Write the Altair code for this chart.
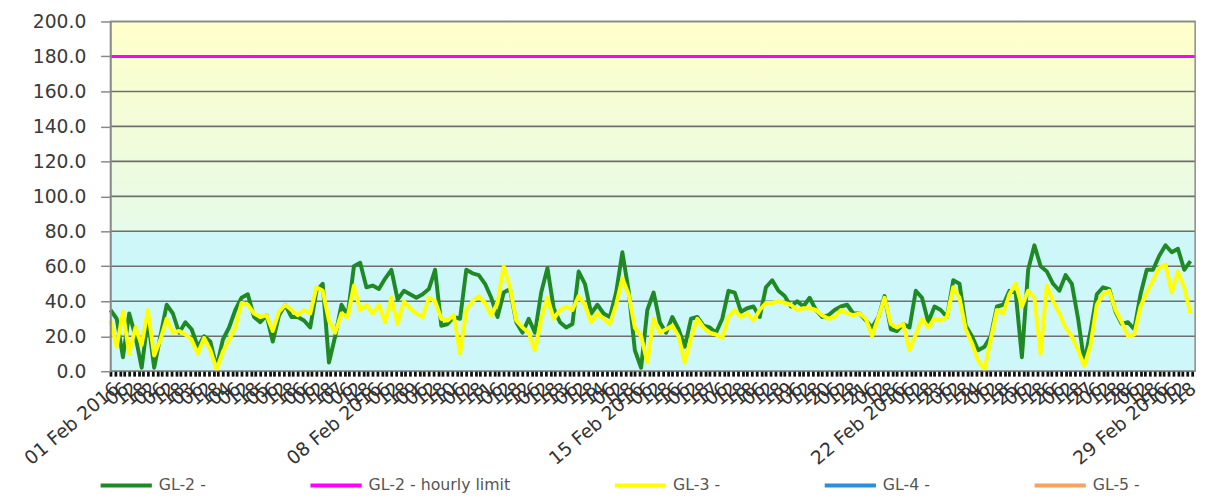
import altair as alt
import pandas as pd

# ---- data (4-hour samples, hour index from 01 Feb 2016 00:00) ----
hours = list(range(0, 696, 4))  # 174 samples

gl2 = [35, 30, 8, 33, 20, 2, 30, 2, 20, 38, 33, 22, 28, 24, 14, 20, 17, 2, 18, 25,
       35, 42, 44, 31, 28, 32, 17, 32, 38, 31, 31, 29, 25, 46, 50, 5, 20, 38, 32, 60,
       62, 48, 49, 47,
       53, 58, 41, 46, 44, 42, 44, 47, 58, 26, 27, 31, 30, 58, 56, 55, 50, 42, 31, 45,
       47, 28, 22, 30, 22, 45, 59, 36, 28, 25, 27, 57, 50, 33, 38, 33, 31, 45, 68, 46,
       12, 2, 35,
       45, 28, 22, 31, 24, 14, 30, 31, 26, 25, 22, 30, 46, 45, 34, 36, 37, 31, 48, 52,
       46, 43, 37, 40, 37, 42, 35, 31, 32, 35, 37, 38, 33, 33, 29, 25, 31, 43, 24, 23,
       27, 25, 46,
       42, 28, 37, 35, 31, 52, 50, 26, 20, 12, 14, 20, 37, 38, 46, 45, 8, 58, 72, 60,
       57, 50, 46, 55, 50, 30, 5, 23, 44, 48, 47, 34, 27, 28, 24, 44, 58, 58, 66, 72,
       68, 70, 58, 63]

gl3 = [29, 14, 34, 10, 25, 15, 35, 9, 18, 30, 22, 23, 21, 18, 10, 19, 12, 1, 11, 18,
       25, 39, 38, 33, 31, 32, 23, 34, 38, 35, 32, 35, 33, 48, 46, 29, 22, 33, 31, 49,
       35, 38, 33, 38,
       28, 42, 27, 40, 36, 33, 31, 42, 40, 30, 29, 32, 10, 35, 40, 43, 39, 32, 39, 60,
       48, 29, 25, 22, 12, 30, 42, 30, 35, 37, 35, 43, 38, 28, 33, 30, 27, 38, 53, 44,
       25, 20, 5,
       30, 22, 24, 26, 20, 5, 19, 30, 25, 22, 21, 19, 31, 35, 31, 33, 29, 35, 39, 39,
       40, 39, 38, 35, 36, 36, 35, 32, 30, 31, 35, 33, 32, 33, 30, 20, 31, 42, 27, 25,
       27, 12, 21,
       30, 25, 30, 29, 31, 48, 42, 24, 16, 6, 1, 18, 35, 33, 44, 50, 37, 46, 42, 10,
       49, 40, 33, 25, 20, 12, 3, 15, 38, 44, 46, 35, 28, 20, 21, 37, 45, 52, 59, 61,
       45, 57, 48, 33]

limit_hours = [0, 695]
limit_values = [180, 180]

series_names = ["GL-2 -", "GL-2 - hourly limit", "GL-3 -", "GL-4 -", "GL-5 -"]
series_colors = ["#1f8a24", "#ff00ff", "#ffff00", "#2a8fd8", "#f4a460"]

y_ticks = [0, 20, 40, 60, 80, 100, 120, 140, 160, 180, 200]
x_ticks = list(range(0, 696, 3))

band_low = [0]
band_high = [80]
grad_low = [80]
grad_high = [200]
x_start = [0]
x_end = [695]

# ---- tables ----
df_gl2 = pd.DataFrame({"h": hours, "v": gl2, "series": series_names[0]})
df_gl3 = pd.DataFrame({"h": hours, "v": gl3, "series": series_names[2]})
df_lim = pd.DataFrame({"h": limit_hours, "v": limit_values, "series": series_names[1]})
df_band = pd.DataFrame({"x": x_start, "x2": x_end, "lo": band_low, "hi": band_high})
df_grad = pd.DataFrame({"x": x_start, "x2": x_end, "lo": grad_low, "hi": grad_high})
df_grid = pd.DataFrame({"g": y_ticks})
df_frame = pd.DataFrame({"x": x_start, "x2": x_end, "lo": [0], "hi": [200]})

FONT = "DejaVu Sans"
ANGLE = -40

xscale = alt.Scale(domain=[0, 695], nice=False, zero=False)
yscale = alt.Scale(domain=[0, 200], nice=False)

label_expr = (
    "datum.value % 168 === 0 ? "
    "((floor(datum.value/24)+1) < 10 ? '0' : '') + (floor(datum.value/24)+1) + ' Feb 2016' : "
    "(datum.value % 6 === 0 ? "
    "(datum.value % 24 === 0 ? ((floor(datum.value/24)+1) < 10 ? '0' : '') + (floor(datum.value/24)+1) "
    ": ((datum.value % 24) < 10 ? '0' : '') + (datum.value % 24)) : '')"
)

xaxis = alt.Axis(
    values=x_ticks, labelExpr=label_expr, labelOverlap=False, labelFlush=False,
    labelAngle=ANGLE, labelPadding=3,
    labelFont=FONT, labelFontSize=19, labelColor="#333333",
    ticks=True, tickSize=5, tickWidth=2.8, tickColor="#111111",
    domain=False, grid=False, title=None, zindex=1,
)
yaxis = alt.Axis(
    values=y_ticks, format=".1f", labelFont=FONT, labelFontSize=19, labelColor="#3a3a3a",
    labelPadding=15, tickSize=10, tickColor="#888888", tickWidth=1.5,
    domain=True, domainColor="#888888", domainWidth=1.5, grid=False, title=None, zindex=1,
)

color_enc = alt.Color(
    "series:N",
    scale=alt.Scale(domain=series_names, range=series_colors),
    legend=alt.Legend(
        title=None, orient="none", legendX=-12, legendY=443, direction="horizontal",
        columnPadding=98, gridAlign="each", symbolType="stroke", symbolSize=2704,
        symbolStrokeWidth=4, labelFont=FONT, labelFontSize=16, labelColor="#555555",
        labelOffset=5, padding=0,
    ),
)

band = alt.Chart(df_band).mark_rect(color="#cef7fa").encode(
    x=alt.X("x:Q", scale=xscale, axis=xaxis), x2="x2:Q",
    y=alt.Y("lo:Q", scale=yscale, axis=yaxis), y2="hi:Q",
)

grad = alt.Chart(df_grad).mark_rect(
    color=alt.Gradient(
        gradient="linear",
        stops=[
            alt.GradientStop(offset=0, color="#e6fbe9"),
            alt.GradientStop(offset=0.45, color="#f1fcdb"),
            alt.GradientStop(offset=1, color="#ffffca"),
        ],
        x1=0, x2=0, y1=1, y2=0,
    )
).encode(
    x=alt.X("x:Q", scale=xscale, axis=xaxis), x2="x2:Q",
    y=alt.Y("lo:Q", scale=yscale, axis=yaxis), y2="hi:Q",
)

grid = alt.Chart(df_grid).mark_rule(color="#6f6f6f", strokeWidth=1.6).encode(
    y=alt.Y("g:Q", scale=yscale, axis=yaxis),
)

def line(df, width):
    return alt.Chart(df).mark_line(strokeWidth=width, strokeJoin="round").encode(
        x=alt.X("h:Q", scale=xscale, axis=xaxis),
        y=alt.Y("v:Q", scale=yscale, axis=yaxis),
        color=color_enc,
    )

frame = alt.Chart(df_frame).mark_rect(fillOpacity=0, stroke="#8a8a8a", strokeWidth=1.5).encode(
    x=alt.X("x:Q", scale=xscale, axis=xaxis), x2="x2:Q",
    y=alt.Y("lo:Q", scale=yscale, axis=yaxis), y2="hi:Q",
)

chart = alt.layer(
    band, grad, grid, line(df_gl2, 4), line(df_lim, 3), line(df_gl3, 4), frame
).properties(
    width=1101, height=355,
    padding={"left": 13, "top": 1, "right": 0, "bottom": 0},
    background="white",
).configure_view(stroke=None).configure_axisX(labelAngle=ANGLE).configure_axisY(
    labelPadding=15, tickSize=10
)

chart.save("out.html", embed_options={"renderer": "svg", "actions": False})
